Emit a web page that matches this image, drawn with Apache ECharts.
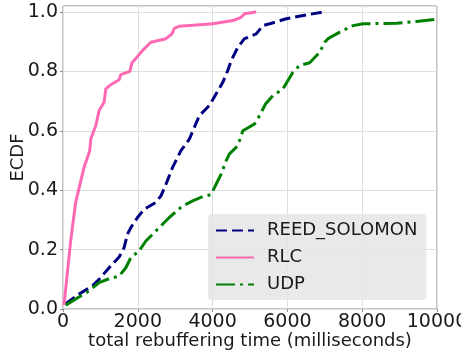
<!DOCTYPE html>
<html>
<head>
<meta charset="utf-8">
<script src="https://cdn.jsdelivr.net/npm/echarts@6/dist/echarts.min.js"></script>
<style>
  html, body { margin: 0; padding: 0; background: #fff; }
  #main { width: 461px; height: 355px; }
</style>
</head>
<body>
<div id="main"></div>
<script>
// ECDF points: x = rebuffering time (ms), y = ECDF
var rsX = [72, 429, 786, 965, 1233, 1501, 1635, 1724, 1814, 1992, 2172, 2485, 2619, 2753, 2931, 3154, 3378, 3646, 3914, 4272, 4406, 4496, 4674, 4853, 5166, 5344, 5523, 5970, 6507, 6953];
var rsY = [0.018, 0.05, 0.078, 0.10, 0.139, 0.175, 0.207, 0.252, 0.274, 0.308, 0.336, 0.359, 0.381, 0.42, 0.477, 0.533, 0.572, 0.651, 0.685, 0.763, 0.803, 0.836, 0.881, 0.910, 0.926, 0.954, 0.960, 0.977, 0.990, 1.0];

var rlcX = [27, 206, 340, 563, 715, 742, 876, 965, 1099, 1144, 1278, 1501, 1546, 1787, 1841, 2011, 2127, 2261, 2350, 2753, 2914, 2976, 3110, 4004, 4540, 4763, 4853, 5166];
var rlcY = [0.013, 0.23, 0.36, 0.477, 0.533, 0.572, 0.617, 0.668, 0.696, 0.741, 0.755, 0.772, 0.789, 0.800, 0.828, 0.853, 0.870, 0.887, 0.898, 0.910, 0.926, 0.945, 0.952, 0.960, 0.971, 0.982, 0.994, 1.0];

var udpX = [72, 697, 965, 1233, 1501, 1680, 1814, 2037, 2216, 2574, 2842, 3199, 3467, 3735, 3958, 4094, 4228, 4362, 4450, 4630, 4719, 4808, 5121, 5255, 5415, 5611, 5880, 6148, 6327, 6595, 6863, 6997, 7086, 7399, 7756, 8024, 8918, 9455, 10000];
var udpY = [0.013, 0.061, 0.089, 0.102, 0.111, 0.139, 0.173, 0.196, 0.229, 0.274, 0.308, 0.347, 0.364, 0.378, 0.385, 0.42, 0.454, 0.499, 0.522, 0.544, 0.567, 0.600, 0.623, 0.651, 0.69, 0.718, 0.741, 0.797, 0.82, 0.829, 0.864, 0.898, 0.91, 0.932, 0.954, 0.960, 0.962, 0.968, 0.976];

var xTicks = [0, 2000, 4000, 6000, 8000, 10000];
var yTicks = [0.0, 0.2, 0.4, 0.6, 0.8, 1.0];

function zip(xs, ys) {
    return xs.map(function (x, i) { return [x, ys[i]]; });
}

var font = 'DejaVu Sans';
var chart = echarts.init(document.getElementById('main'), null, { renderer: 'canvas' });

chart.setOption({
    animation: false,
    grid: {
        left: 63, right: 24, top: 6, bottom: 46,
        show: true, borderColor: '#8c8c8c', borderWidth: 1,
        containLabel: false, outerBoundsMode: 'none'
    },
    legend: {
        orient: 'vertical',
        left: 208, top: 214,
        padding: [6, 9, 5, 7],
        itemWidth: 38, itemHeight: 14, itemGap: 6,
        backgroundColor: 'rgba(229,229,229,0.85)',
        borderRadius: 4,
        itemStyle: { opacity: 0 },
        textStyle: { fontFamily: font, fontSize: 18, lineHeight: 21, color: '#1a1a1a', padding: [0, 0, 0, 8] },
        data: ['REED_SOLOMON', 'RLC', 'UDP']
    },
    xAxis: {
        type: 'value', min: 0, max: 10000, interval: 2000,
        name: 'total rebuffering time (milliseconds)',
        nameLocation: 'middle', nameGap: 23, nameMoveOverlap: false,
        nameTextStyle: { fontFamily: font, fontSize: 18, color: '#1a1a1a' },
        axisLine: { show: false },
        axisTick: { show: true, length: 3, inside: false, lineStyle: { color: '#8c8c8c' } },
        axisLabel: {
            fontFamily: font, fontSize: 19, color: '#1a1a1a', margin: 4,
            formatter: function (v) { return xTicks.indexOf(v) >= 0 ? String(v) : ''; }
        },
        splitLine: { show: true, lineStyle: { color: '#dedede', width: 1 } }
    },
    yAxis: {
        type: 'value', min: 0, max: 1.02, interval: 0.2,
        name: 'ECDF',
        nameLocation: 'middle', nameGap: 36, nameRotate: 90, nameMoveOverlap: false,
        nameTextStyle: { fontFamily: font, fontSize: 18, color: '#1a1a1a' },
        axisLine: { show: false },
        axisTick: { show: true, length: 3, lineStyle: { color: '#8c8c8c' } },
        axisLabel: {
            fontFamily: font, fontSize: 19, color: '#1a1a1a', margin: 5, showMaxLabel: false,
            formatter: function (v) {
                var r = Math.round(v * 10) / 10;
                return yTicks.indexOf(r) >= 0 && Math.abs(r - v) < 1e-6 ? r.toFixed(1) : '';
            }
        },
        splitLine: { show: true, lineStyle: { color: '#dedede', width: 1 } }
    },
    series: [
        {
            name: 'REED_SOLOMON', type: 'line', data: zip(rsX, rsY),
            symbol: 'none', smooth: false, color: '#000080',
            lineStyle: { color: '#000080', width: 3, type: [11, 5], cap: 'butt' }
        },
        {
            name: 'RLC', type: 'line', data: zip(rlcX, rlcY),
            symbol: 'none', smooth: false, color: '#ff69b4',
            lineStyle: { color: '#ff69b4', width: 3 }
        },
        {
            name: 'UDP', type: 'line', data: zip(udpX, udpY),
            symbol: 'none', smooth: false, color: '#008000',
            lineStyle: { color: '#008000', width: 3, type: [19, 5, 3, 5], cap: 'butt' }
        }
    ]
});
</script>
</body>
</html>
